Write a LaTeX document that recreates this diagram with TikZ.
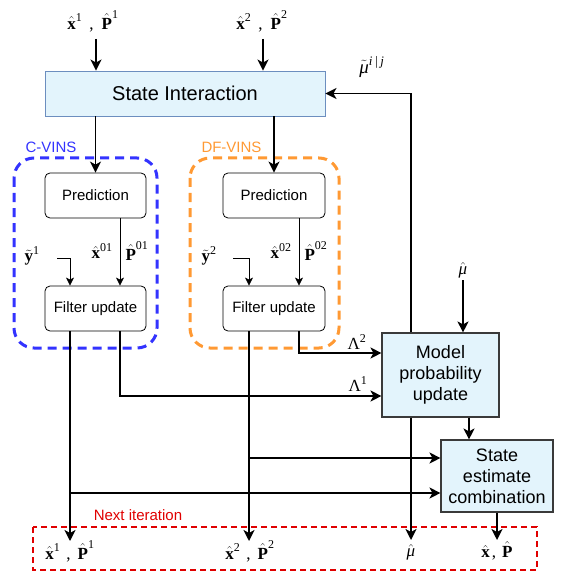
\documentclass[tikz,border=0pt]{standalone}
\usepackage{fontspec}
\newfontfamily\lsans{Liberation Sans}
\newfontfamily\lserif{Liberation Serif}
\newcommand\vhat[1]{\hat{\hbox{\lserif\bfseries #1}}}
\newcommand\vtil[1]{\tilde{\hbox{\lserif\bfseries #1}}}
\newcommand\spr[1]{^{\hbox{\lserif\fontsize{12}{12}\selectfont #1}}}
\newcommand\sprit[1]{^{\hbox{\lserif\itshape\fontsize{13}{13}\selectfont #1}}}
\newcommand\gmu{\hbox{\lserif\itshape μ}}
\usetikzlibrary{arrows.meta}
\definecolor{lightfill}{HTML}{E3F4FC}
\definecolor{siborder}{HTML}{6C8EBF}
\definecolor{darkborder}{HTML}{3A3A3A}
\definecolor{cblue}{HTML}{3333FF}
\definecolor{corange}{HTML}{FF9933}
\definecolor{nred}{HTML}{E00000}
\begin{document}
\begin{tikzpicture}[x=1pt,y=-1pt,
  mth/.style={font=\lserif\fontsize{17}{20}\selectfont, inner sep=0pt},
  sibox/.style={draw=siborder, fill=lightfill, line width=0.9pt, minimum width=280pt, minimum height=45pt, inner sep=0pt, font=\lsans\fontsize{20}{24}\selectfont},
  rbox/.style={draw=black, fill=white, line width=0.8pt, rounded corners=5pt, minimum width=101pt, minimum height=45pt, inner sep=0pt, font=\lsans\fontsize{15}{18}\selectfont},
  bbox/.style={draw=darkborder, fill=lightfill, line width=1.1pt, inner sep=0pt, align=center, font=\lsans\fontsize{18}{21}\selectfont},
  grp/.style={font=\lsans\fontsize{15}{18}\selectfont, inner sep=0pt},
  arr/.style={line width=1.8pt, -{Stealth[length=11pt,width=11pt,inset=3pt]}},
  thinarr/.style={line width=0.8pt, -{Stealth[length=8pt,width=8pt,inset=2pt]}},
  clus/.style={line width=3pt, rounded corners=20pt, dash pattern=on 9pt off 6pt},
]
\useasboundingbox (0,0) rectangle (563,577);

% cluster frames
\draw[clus, draw=cblue] (14,158) rectangle (157,348);
\draw[clus, draw=corange] (190,158) rectangle (339,348);
\draw[draw=nred, line width=2pt, dash pattern=on 6pt off 4pt] (33,527) rectangle (537,570);

\node[grp, text=cblue] (cvl) at (51,147) {C-VINS};
\node[grp, text=corange] (dvl) at (231.5,147) {DF-VINS};
\node[grp, text=nred] (nil) at (138,515) {Next iteration};

% main boxes
\node[sibox] (si) at (185,93.5) {State Interaction};
\node[rbox] (cpred) at (95.5,195.5) {Prediction};
\node[rbox] (cfu) at (95.5,308.5) {Filter update};
\node[rbox, minimum width=102pt] (dpred) at (274,195.5) {Prediction};
\node[rbox, minimum width=102pt] (dfu) at (274,308.5) {Filter update};
\node[bbox, minimum width=117pt, minimum height=84pt] (mpu) at (440.5,375) {Model\\probability\\update};
\node[bbox, minimum width=112pt, minimum height=72pt] (sec) at (497,476) {State\\estimate\\combination};

% input labels
\node[mth] (in1) at (93,21) {$\vhat{x}\spr{1}$\hspace{7pt},\hspace{8pt}$\vhat{P}\spr{1}$};
\node[mth] (in2) at (262,21) {$\vhat{x}\spr{2}$\hspace{7pt},\hspace{8pt}$\vhat{P}\spr{2}$};
\coordinate (i1) at (96,39);
\coordinate (i2) at (263,39);
\draw[arr] (i1) -- (i1 |- si.north);
\draw[arr] (i2) -- (i2 |- si.north);

% SI to predictions
\draw[arr] (cpred.north |- si.south) -- (cpred.north);
\draw[arr] (dpred.north |- si.south) -- (dpred.north);

% inside clusters
\node[mth] (y1) at (32,256) {$\vtil{y}\spr{1}$};
\node[mth] (x01) at (102,251) {$\vhat{x}\spr{01}$};
\node[mth] (p01) at (137,251) {$\vhat{P}\spr{01}$};
\node[mth] (y2) at (209,256) {$\vtil{y}\spr{2}$};
\node[mth] (x02) at (281,251) {$\vhat{x}\spr{02}$};
\node[mth] (p02) at (316,251) {$\vhat{P}\spr{02}$};

\draw[thinarr] ([xshift=24.5pt]cpred.south) -- ([xshift=24.5pt]cfu.north);
\draw[thinarr] ([xshift=25pt]dpred.south) -- ([xshift=25pt]dfu.north);
\coordinate (cys) at (57,258);
\coordinate (dys) at (233,258);
\coordinate (cy) at ([xshift=-25.5pt]cfu.north);
\coordinate (dy) at ([xshift=-25pt]dfu.north);
\draw[thinarr] (cys) -| (cy);
\draw[thinarr] (dys) -| (dy);

% outputs
\node[mth] (o1) at (70,551) {$\vhat{x}\spr{1}$\hspace{6pt},\hspace{7pt}$\vhat{P}\spr{1}$};
\node[mth] (o2) at (250,551) {$\vhat{x}\spr{2}$\hspace{6pt},\hspace{7pt}$\vhat{P}\spr{2}$};
\node[mth] (omu) at (411,552) {$\hat{\gmu}$};
\node[mth] (oxp) at (497,551) {$\vhat{x}$\hspace{2pt},\hspace{6pt}$\vhat{P}$};

\coordinate (ca) at ([xshift=-25.5pt]cfu.south);
\coordinate (cb) at ([xshift=24.5pt]cfu.south);
\coordinate (da) at ([xshift=-25pt]dfu.south);
\coordinate (db) at ([xshift=25pt]dfu.south);
\coordinate (l2) at ([yshift=22pt]mpu.west);
\coordinate (l1) at ([yshift=-21pt]mpu.west);
\coordinate (s2) at ([yshift=18pt]sec.west);
\coordinate (s1) at ([yshift=-17pt]sec.west);

\draw[arr] (ca) -- (70,541);
\draw[arr] (da) -- (249,541);
\draw[arr] (cb) |- (l1);
\draw[arr] (db) |- (l2);
\draw[arr] (da |- s2) -- (s2);
\draw[arr] (ca |- s1) -- (s1);

\node[mth] at (357,342) (lam2) {$\hbox{Λ}\spr{2}$};
\node[mth] at (358,384) (lam1) {$\hbox{Λ}\spr{1}$};

% feedback
\coordinate (fb) at ([xshift=-29.5pt]mpu.north);
\draw[arr] (fb) |- (si.east);
\node[mth, font=\lserif\fontsize{19}{22}\selectfont] (mut) at (372,67) {$\tilde{\gmu}\sprit{i\,|\,j}$};

% mu hat input
\node[mth] (muin) at (463,270) {$\hat{\gmu}$};
\coordinate (mi) at (463,280);
\draw[arr] (mi) -- (mi |- mpu.north);

% MPU outputs
\coordinate (mb) at ([xshift=-29.5pt]mpu.south);
\draw[arr] (mb) -- (411,540);
\coordinate (mr) at ([xshift=28.5pt]mpu.south);
\draw[arr] (mr) -- (mr |- sec.north);
\draw[arr] (sec.south) -- (497,540);
\end{tikzpicture}
\end{document}
